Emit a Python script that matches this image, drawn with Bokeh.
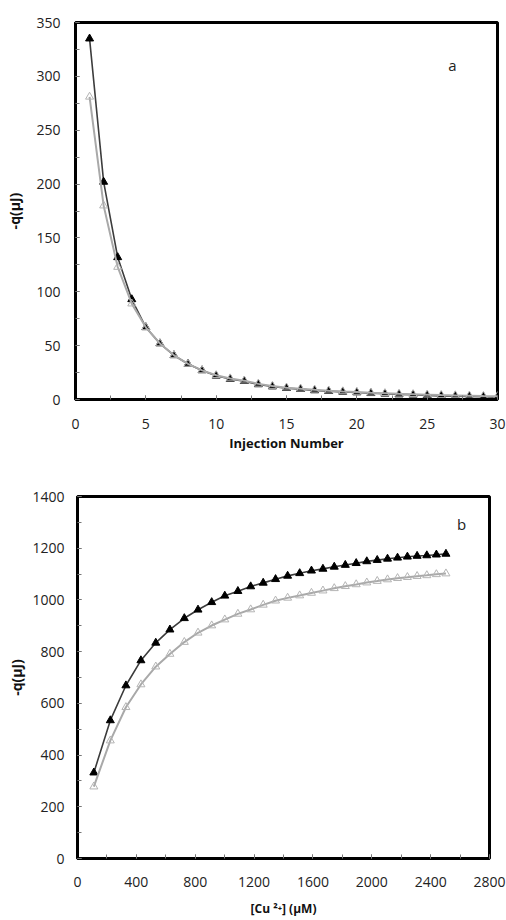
from bokeh.plotting import figure
from bokeh.models import Range1d, SingleIntervalTicker, Label, ColumnDataSource
from bokeh.layouts import column
from bokeh.embed import file_html
from bokeh.resources import INLINE

# ---------------- data: panel a ----------------
injection = list(range(1, 31))
heat_a_black = [335, 202, 132, 93, 67, 52, 41, 33, 27, 22, 19, 17, 14, 12, 10.5,
                9.6, 8.4, 7.7, 7.1, 6.5, 5.8, 5.3, 4.6, 4.4, 3.7, 3.4, 3.1, 2.8, 2.5, 2.1]
heat_a_gray = [281, 180, 123, 89, 67, 52, 41, 33, 27, 22.5, 19.5, 17.5, 14.5, 12.5, 11,
               10, 9, 8.2, 7.5, 7, 6.3, 5.8, 5.3, 4.9, 4.5, 4.1, 3.8, 3.5, 3.2, 3.0]

# ---------------- data: panel b ----------------
cu_conc = [111, 223, 329, 431, 532, 628, 726, 819, 912, 1001, 1090, 1177, 1262, 1346, 1428,
           1510, 1590, 1668, 1745, 1820, 1894, 1966, 2037, 2107, 2175, 2242, 2308, 2374, 2439, 2504]
heat_b_black = [332, 534, 669, 766, 834, 885, 929, 962, 991, 1016, 1034, 1052, 1066, 1080, 1093,
                1103, 1113, 1120, 1128, 1135, 1142, 1149, 1154, 1159, 1163, 1167, 1170, 1172, 1175, 1178]
heat_b_gray = [278, 456, 585, 673, 742, 791, 837, 873, 901, 924, 946, 963, 981, 997, 1008,
               1017, 1027, 1036, 1045, 1053, 1060, 1067, 1073, 1079, 1084, 1088, 1092, 1095, 1099, 1102]

FONT = "Open Sans"
DARK_LINE = "#3c3c3c"
GRAY_LINE = "#a9a9a9"
GRAY_MARK = "#b4b4b4"


def style(p, xint, yint, xlabel, ylabel):
    p.frame_align = False
    p.outline_line_color = "black"
    p.outline_line_width = 3
    p.xgrid.visible = False
    p.ygrid.visible = False
    p.background_fill_color = "white"
    p.border_fill_color = "white"
    for ax in (p.xaxis[0], p.yaxis[0]):
        ax.axis_line_color = "black"
        ax.axis_line_width = 3
        ax.major_tick_out = 0
        ax.major_tick_in = 4
        ax.minor_tick_out = 0
        ax.minor_tick_in = 4
        ax.major_tick_line_color = "#777777"
        ax.minor_tick_line_color = "#777777"
        ax.major_label_text_font = FONT
        ax.major_label_text_font_size = "14px"
        ax.major_label_text_color = "#222222"
        ax.axis_label_text_font = FONT
        ax.axis_label_text_font_style = "bold"
        ax.axis_label_text_color = "#111111"
    p.xaxis.axis_label_text_font_size = "13px"
    p.yaxis.axis_label_text_font_size = "14px"
    p.xaxis.ticker = SingleIntervalTicker(interval=xint, num_minor_ticks=2)
    p.yaxis.ticker = SingleIntervalTicker(interval=yint, num_minor_ticks=2)
    p.xaxis.axis_label = xlabel
    p.yaxis.axis_label = ylabel


W = 506
H1 = 460
H2 = 920 - H1

p1 = figure(width=W, height=H1, x_range=Range1d(0, 30), y_range=Range1d(0, 350),
            output_backend="svg", toolbar_location=None,
            min_border_left=75, min_border_right=9, min_border_top=22,
            min_border_bottom=H1 - 399)
style(p1, 5, 50, "Injection Number", "-q(µJ)")
p1.yaxis.major_label_standoff = 15
p1.yaxis.axis_label_standoff = 9
p1.xaxis.major_label_standoff = 19
p1.xaxis.axis_label_standoff = 2

src_a = ColumnDataSource(dict(x=injection, yb=heat_a_black, yg=heat_a_gray))
p1.line("x", "yb", source=src_a, line_color=DARK_LINE, line_width=1.6)
p1.scatter("x", "yb", source=src_a, marker="triangle", size=8,
           fill_color="black", line_color="black")
p1.line("x", "yg", source=src_a, line_color=GRAY_LINE, line_width=2)
p1.scatter("x", "yg", source=src_a, marker="triangle", size=8,
           fill_alpha=0, line_color=GRAY_MARK, line_width=1)
p1.add_layout(Label(x=26.8, y=311, text="a", text_font=FONT, text_font_size="15px",
                    text_align="center", text_baseline="middle", text_color="#222222"))

p2 = figure(width=W, height=H2, x_range=Range1d(0, 2800), y_range=Range1d(0, 1400),
            output_backend="svg", toolbar_location=None,
            min_border_left=77, min_border_right=17, min_border_top=496 - H1,
            min_border_bottom=920 - 858)
style(p2, 400, 200, "[Cu ²⁺] (µM)", "-q(µJ)")
p2.xaxis.axis_label_text_font_size = "12px"
p2.yaxis.major_label_standoff = 13
p2.yaxis.axis_label_standoff = 3
p2.xaxis.major_label_standoff = 18
p2.xaxis.axis_label_standoff = 10

src_b = ColumnDataSource(dict(x=cu_conc, yb=heat_b_black, yg=heat_b_gray))
p2.line("x", "yb", source=src_b, line_color=DARK_LINE, line_width=1.6)
p2.scatter("x", "yb", source=src_b, marker="triangle", size=8,
           fill_color="black", line_color="black")
p2.line("x", "yg", source=src_b, line_color=GRAY_LINE, line_width=2)
p2.scatter("x", "yg", source=src_b, marker="triangle", size=8,
           fill_color="white", fill_alpha=0, line_color=GRAY_MARK, line_width=1)
p2.add_layout(Label(x=2610, y=1295, text="b", text_font=FONT, text_font_size="15px",
                    text_align="center", text_baseline="middle", text_color="#222222"))

layout = column(p1, p2, spacing=0)
open("out.html", "w").write(file_html(layout, INLINE))
